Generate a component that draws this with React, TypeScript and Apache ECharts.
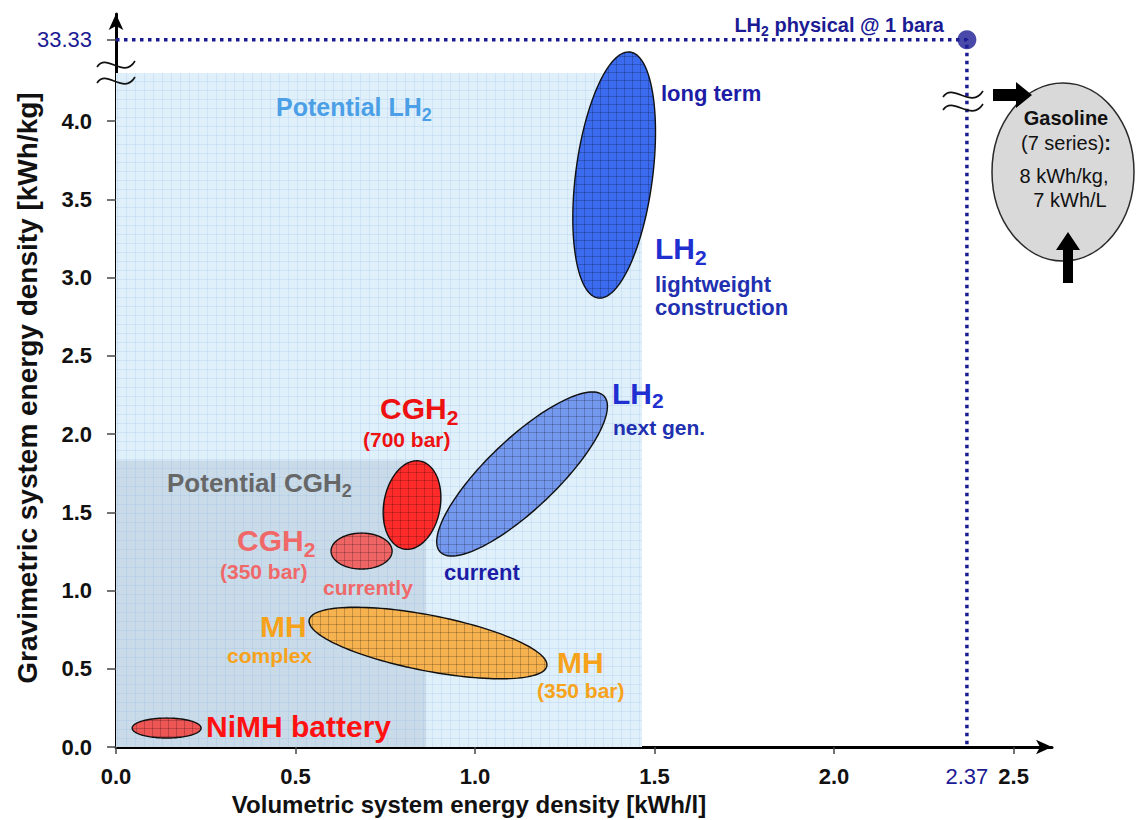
import React, { useEffect, useRef } from 'react';
import * as echarts from 'echarts';

const FONT = '"Liberation Sans", Arial, Helvetica, sans-serif';

// ---------- axes ----------
const xTickValues = [0, 0.5, 1.0, 1.5, 2.0, 2.5];
const xLabelValues = [0, 0.5, 1.0, 1.5, 2.0, 2.37, 2.5];
const yTickValues = [0, 0.5, 1.0, 1.5, 2.0, 2.5, 3.0, 3.5, 4.0, 4.52];
const X_MAX = 2.607;
const Y_MAX = 4.684;

// LH2 physical @ 1 bara (value beyond the y-axis break is drawn at axis position 4.52)
const lh2PhysicalX = 2.37;
const lh2PhysicalYPos = 4.52;
const lh2PhysicalYLabel = '33.33';

// ---------- shaded potential regions ----------
const regionNames = ['Potential LH2', 'Potential CGH2'];
const regionXMax = [1.465, 0.864];
const regionYMax = [4.307, 1.83];
const regionColors = ['#dff0fb', '#c9dbe9'];

// ---------- technology ellipses (major axis ends in data units, minor/major ratio) ----------
const ellipseNames = [
  'LH2 lightweight construction / long term',
  'LH2 current / next gen.',
  'CGH2 700 bar',
  'CGH2 350 bar currently',
  'MH complex / 350 bar',
  'NiMH battery',
];
const ellipseX1 = [1.343, 0.903, 0.802, 0.599, 0.538, 0.045];
const ellipseY1 = [2.869, 1.246, 1.265, 1.252, 0.812, 0.121];
const ellipseX2 = [1.432, 1.359, 0.847, 0.769, 1.200, 0.237];
const ellipseY2 = [4.441, 2.243, 1.827, 1.252, 0.517, 0.121];
const ellipseRatio = [0.31, 0.31, 0.63, 0.59, 0.23, 0.29];
const ellipseColors = ['#3b6cf0', '#7598ef', '#ff2b2b', '#ef6464', '#f6b24e', '#ee5555'];

const tile = (stroke: string, size = 8) => ({
  image:
    'data:image/svg+xml;charset=utf-8,' +
    encodeURIComponent(
      `<svg xmlns="http://www.w3.org/2000/svg" width="${size}" height="${size}"><path d="M0 0.5H${size}M0.5 0V${size}" stroke="${stroke}" stroke-width="1" fill="none"/></svg>`
    ),
  repeat: 'repeat',
  imageWidth: size,
  imageHeight: size,
});

const DARK = '#1b1b94';

function txt(x: number, y: number, text: string, size: number, color: string, extra: any = {}) {
  return {
    type: 'text',
    x,
    y,
    z: 100,
    style: {
      text,
      fontSize: size,
      fontWeight: 'bold',
      fontFamily: FONT,
      fill: color,
      textAlign: 'left',
      textVerticalAlign: 'middle',
      ...extra,
    },
  };
}

function subTxt(x: number, y: number, main: string, sub: string, size: number, subSize: number, color: string, drop = 0.6) {
  return {
    type: 'text',
    x,
    y,
    z: 100,
    style: {
      text: `{a|${main}}{s|${sub}}`,
      fontFamily: FONT,
      fill: color,
      textAlign: 'left',
      textVerticalAlign: 'middle',
      rich: {
        a: { fontSize: size, fontWeight: 'bold', fontFamily: FONT, fill: color, lineHeight: size },
        s: {
          fontSize: subSize,
          fontWeight: 'bold',
          fontFamily: FONT,
          fill: color,
          lineHeight: subSize,
          padding: [Math.round(size * drop), 0, 0, 0],
        },
      },
    },
  };
}

function tilde(x: number, y: number, w: number) {
  return {
    type: 'bezierCurve',
    z: 100,
    shape: {
      x1: x,
      y1: y + 5,
      cpx1: x + w * 0.25,
      cpy1: y - 10,
      cpx2: x + w * 0.7,
      cpy2: y + 18,
      x2: x + w,
      y2: y - 1,
    },
    style: { stroke: '#111', lineWidth: 1.6, fill: 'none' },
  };
}

function buildOption() {
  const ellipseData = ellipseNames.map((n, i) => ({
    name: n,
    value: [ellipseX1[i], ellipseY1[i], ellipseX2[i], ellipseY2[i], ellipseRatio[i]],
  }));
  const regionData = regionNames.map((n, i) => ({ name: n, value: [regionXMax[i], regionYMax[i]] }));

  const graphicElements: any[] = [
    // axis titles
    txt(469, 804, 'Volumetric system energy density [kWh/l]', 24, '#111', { textAlign: 'center' }),
    {
      ...txt(27, 388, 'Gravimetric system energy density [kWh/kg]', 28, '#111', { textAlign: 'center' }),
      rotation: Math.PI / 2,
    },
    // break marks
    tilde(97, 62, 38),
    tilde(97, 78, 38),
    tilde(943, 92, 40),
    tilde(943, 105, 40),
    // region labels
    subTxt(276, 107, 'Potential LH', '2', 25, 18, '#4a9fe6'),
    subTxt(167, 483, 'Potential CGH', '2', 26, 18, '#676767'),
    // LH2 lightweight
    txt(661, 93, 'long term', 22, '#1c1ca6'),
    subTxt(655, 248, 'LH', '2', 30, 21, '#1f2fd0'),
    txt(655, 284, 'lightweight', 22, '#2030b0'),
    txt(655, 307, 'construction', 22, '#2030b0'),
    // LH2 next gen
    subTxt(612, 393, 'LH', '2', 30, 21, '#1f2fd0', 0.5),
    txt(613, 427, 'next gen.', 21, '#2030b0'),
    txt(444, 572, 'current', 22, '#1c1ca6'),
    // CGH2 700
    subTxt(380, 408, 'CGH', '2', 30, 21, '#ee1111'),
    txt(363, 439, '(700 bar)', 21, '#ee1111'),
    // CGH2 350
    subTxt(237, 540, 'CGH', '2', 30, 21, '#f06868'),
    txt(220, 571, '(350 bar)', 21, '#f06868'),
    txt(323, 587, 'currently', 21, '#f06868'),
    // MH
    txt(260, 626, 'MH', 30, '#f7a21b'),
    txt(227, 655, 'complex', 21, '#f7a21b'),
    txt(557, 662, 'MH', 30, '#f7a21b'),
    txt(537, 690, '(350 bar)', 21, '#f7a21b'),
    // NiMH
    txt(206, 726, 'NiMH battery', 30, '#ff1111'),
    // LH2 physical
    {
      type: 'text',
      x: 944,
      y: 25,
      z: 100,
      style: {
        text: '{a|LH}{s|2}{a| physical @ 1 bara}',
        fill: DARK,
        textAlign: 'right',
        textVerticalAlign: 'middle',
        rich: {
          a: { fontSize: 20, fontWeight: 'bold', fontFamily: FONT, fill: DARK, lineHeight: 20 },
          s: { fontSize: 14, fontWeight: 'bold', fontFamily: FONT, fill: DARK, lineHeight: 14, padding: [12, 0, 0, 0] },
        },
      },
    },
    // gasoline
    {
      type: 'ellipse',
      z: 90,
      shape: { cx: 1063, cy: 172, rx: 71, ry: 89 },
      style: { fill: '#d9d9d9', stroke: '#2a2a2a', lineWidth: 1.5 },
    },
    txt(1066, 118, 'Gasoline', 20, '#111', { textAlign: 'center' }),
    {
      type: 'text',
      x: 1066,
      y: 143,
      z: 100,
      style: {
        text: '{n|(7 series)}{b|:}',
        textAlign: 'center',
        textVerticalAlign: 'middle',
        fill: '#111',
        rich: {
          n: { fontSize: 20, fontFamily: FONT, fill: '#111' },
          b: { fontSize: 20, fontFamily: FONT, fontWeight: 'bold', fill: '#111' },
        },
      },
    },
    txt(1064, 176, '8 kWh/kg,', 20, '#111', { textAlign: 'center', fontWeight: 'normal' }),
    txt(1070, 200, '7 kWh/L', 20, '#111', { textAlign: 'center', fontWeight: 'normal' }),
    {
      type: 'polygon',
      z: 100,
      shape: {
        points: [
          [993, 89],
          [1016, 89],
          [1016, 82],
          [1032, 95],
          [1016, 108],
          [1016, 101],
          [993, 101],
        ],
      },
      style: { fill: '#000' },
    },
    {
      type: 'polygon',
      z: 100,
      shape: {
        points: [
          [1063, 283],
          [1063, 250],
          [1056, 250],
          [1068, 232],
          [1080, 250],
          [1073, 250],
          [1073, 283],
        ],
      },
      style: { fill: '#000' },
    },
  ];

  return {
    animation: false,
    backgroundColor: '#ffffff',
    textStyle: { fontFamily: FONT },
    grid: { left: 116, right: 84, top: 14, bottom: 73, containLabel: false, outerBoundsMode: 'none' },
    xAxis: {
      type: 'value',
      min: 0,
      max: X_MAX,
      splitLine: { show: false },
      axisLine: {
        show: true,
        symbol: ['none', 'arrow'],
        symbolSize: [11, 16],
        lineStyle: { color: '#000', width: 3 },
      },
      axisTick: { show: true, customValues: xTickValues, length: 7, lineStyle: { color: '#444', width: 1.5 } },
      axisLabel: {
        customValues: xLabelValues,
        margin: 18,
        fontSize: 22,
        fontWeight: 'bold',
        fontFamily: FONT,
        color: '#111',
        formatter: (v: number) => (Math.abs(v - lh2PhysicalX) < 1e-6 ? `{hl|${v.toFixed(2)}}` : v.toFixed(1)),
        rich: { hl: { color: DARK, fontSize: 22, fontFamily: FONT, fontWeight: 'normal' } },
      },
    },
    yAxis: {
      type: 'value',
      min: 0,
      max: Y_MAX,
      splitLine: { show: false },
      axisLine: {
        show: true,
        symbol: ['none', 'arrow'],
        symbolSize: [11, 16],
        lineStyle: { color: '#000', width: 3 },
      },
      axisTick: { show: true, customValues: yTickValues, length: 9, lineStyle: { color: '#444', width: 1.5 } },
      axisLabel: {
        customValues: yTickValues,
        margin: 24,
        fontSize: 22,
        fontWeight: 'bold',
        fontFamily: FONT,
        color: '#111',
        formatter: (v: number) => (Math.abs(v - lh2PhysicalYPos) < 1e-6 ? `{hl|${lh2PhysicalYLabel}}` : v.toFixed(1)),
        rich: { hl: { color: DARK, fontSize: 22, fontFamily: FONT, fontWeight: 'normal' } },
      },
    },
    series: [
      {
        type: 'custom',
        name: 'regions',
        coordinateSystem: 'cartesian2d',
        encode: { x: 0, y: 1 },
        data: regionData,
        renderItem: (params: any, api: any) => {
          const i = params.dataIndex;
          const p0 = api.coord([0, 0]);
          const p1 = api.coord([api.value(0), api.value(1)]);
          const shape = { x: p0[0], y: p1[1], width: p1[0] - p0[0], height: p0[1] - p1[1] };
          return {
            type: 'group',
            children: [
              { type: 'rect', shape, style: { fill: regionColors[i] } },
              { type: 'rect', shape, style: { fill: tile('rgba(120,170,215,0.16)', 9) } },
            ],
          };
        },
      },
      {
        type: 'line',
        name: 'LH2 physical',
        data: [
          [0, lh2PhysicalYPos],
          [lh2PhysicalX, lh2PhysicalYPos],
          [lh2PhysicalX, 0],
        ],
        symbol: 'none',
        lineStyle: { color: DARK, width: 3.5, type: [3.5, 4.5] },
        z: 3,
      },
      {
        type: 'scatter',
        name: 'LH2 physical point',
        data: [[lh2PhysicalX, lh2PhysicalYPos]],
        symbolSize: 19,
        itemStyle: { color: DARK },
        z: 4,
      },
      {
        type: 'custom',
        name: 'technologies',
        coordinateSystem: 'cartesian2d',
        encode: { x: [0, 2], y: [1, 3] },
        data: ellipseData,
        clip: false,
        renderItem: (params: any, api: any) => {
          const i = params.dataIndex;
          const p1 = api.coord([api.value(0), api.value(1)]);
          const p2 = api.coord([api.value(2), api.value(3)]);
          const ratio = api.value(4);
          const cx = (p1[0] + p2[0]) / 2;
          const cy = (p1[1] + p2[1]) / 2;
          const dx = (p2[0] - p1[0]) / 2;
          const dy = (p2[1] - p1[1]) / 2;
          const a = Math.hypot(dx, dy);
          const b = a * ratio;
          const ux = dx / a;
          const uy = dy / a;
          const vx = -uy;
          const vy = ux;
          const pts: number[][] = [];
          const N = 140;
          for (let k = 0; k < N; k++) {
            const t = (k / N) * Math.PI * 2;
            const c = Math.cos(t);
            const s = Math.sin(t);
            pts.push([cx + a * c * ux + b * s * vx, cy + a * c * uy + b * s * vy]);
          }
          return {
            type: 'group',
            children: [
              { type: 'polygon', shape: { points: pts }, style: { fill: ellipseColors[i] } },
              {
                type: 'polygon',
                shape: { points: pts },
                style: { fill: tile('rgba(0,0,0,0.2)', 8), stroke: '#111', lineWidth: 1.4 },
              },
            ],
          };
        },
        z: 5,
      },
    ],
    graphic: { elements: graphicElements },
  };
}

export default function App() {
  const ref = useRef<HTMLDivElement>(null);
  useEffect(() => {
    if (!ref.current) return;
    const chart = echarts.init(ref.current, null, { renderer: 'svg' });
    chart.setOption(buildOption() as any);
    return () => chart.dispose();
  }, []);
  return (
    <div
      ref={ref}
      style={{ position: 'fixed', left: 0, top: 0, width: 1136, height: 820, background: '#fff' }}
    />
  );
}
